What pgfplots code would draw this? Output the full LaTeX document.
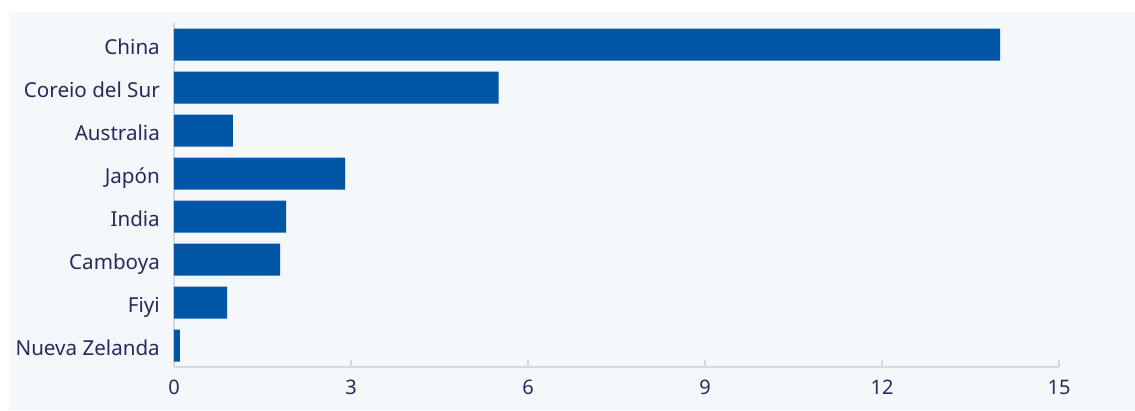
\documentclass[border=0pt]{standalone}
\usepackage{pgfplots}
\pgfplotsset{compat=1.18}
\usepackage{fontspec}
\setmainfont{Noto Sans}
\definecolor{panel}{HTML}{F5F8FA}
\definecolor{axisc}{HTML}{D0DAE4}
\definecolor{barblue}{HTML}{0055A4}
\definecolor{txt}{HTML}{2A285C}
\begin{document}
\begin{tikzpicture}
\useasboundingbox (-174pt,-43pt) rectangle (961pt,367pt);
\fill[white] (-174pt,-43pt) rectangle (961pt,367pt);
\fill[panel] (-165pt,-43pt) rectangle (961pt,355pt);
\begin{axis}[
  at={(0pt,0pt)}, anchor=south west,
  scale only axis, width=885pt, height=344pt,
  xmin=0, xmax=15, ymin=-0.5, ymax=7.5,
  axis x line*=bottom, axis y line*=left,
  axis line style={-, draw=axisc, line width=2pt},
  xtick={0,3,6,9,12,15},
  ytick={0,1,2,3,4,5,6,7},
  yticklabels={Nueva Zelanda, Fiyi, Camboya, India, Japón, Australia, Coreio del Sur, China},
  tick align=inside,
  major tick length=7pt,
  xtick style={draw=axisc, line width=2pt},
  ytick style={draw=none},
  /pgf/number format/assume math mode=true,
  xticklabel style={font=\fontsize{20}{24}\selectfont, text=txt, anchor=north, inner sep=0pt, yshift=-13pt},
  yticklabel style={font=\fontsize{20.6}{24}\selectfont, text=txt, anchor=base east, inner sep=0pt, xshift=-14pt, yshift=-10pt},
]
\addplot[xbar, fill=barblue, draw=none, bar width=32pt] table {
x y
0.1 0
0.9 1
1.8 2
1.9 3
2.9 4
1.0 5
5.5 6
14 7
};
\end{axis}
\end{tikzpicture}
\end{document}
